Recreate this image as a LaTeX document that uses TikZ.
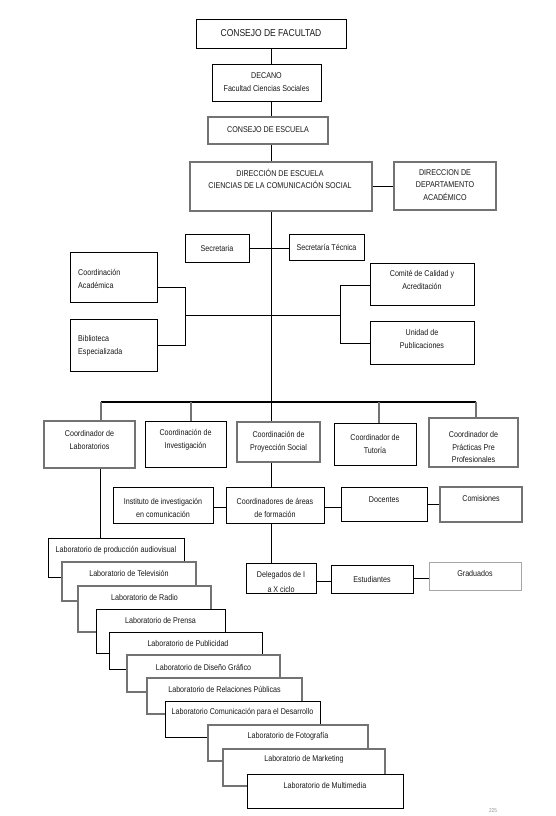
\documentclass[tikz,border=0pt]{standalone}
\usepackage{fontspec}
\setmainfont[FakeStretch=0.85]{Liberation Sans}
\usetikzlibrary{backgrounds}
\newcommand\bx[6][]{\node[box,#1,minimum width={(#5-#3)*1pt},minimum height={(#6-#4)*1pt},anchor=north west] (#2) at (#3,#4) {};}
\begin{document}
\begin{tikzpicture}[x=1pt,y=-1pt,
  box/.style={rectangle,draw=black,fill=white,line width=0.8pt,inner sep=0pt,outer sep=0pt},
  gbox/.style={draw=black!55,line width=1.4pt},
  lgbox/.style={draw=black!35,line width=0.8pt},
  txt/.style={inner sep=0pt,align=center,font=\fontsize{8.4}{12.5}\selectfont,text=black!90},
  ln/.style={draw=black,line width=0.7pt},
  gln/.style={draw=black!55,line width=1.3pt}]
\useasboundingbox (0,0) rectangle (555,816);
% top chain
\bx{cf}{196}{19}{346}{48}
\node[txt,font=\fontsize{10}{12}\selectfont] (cft) at (271,33.5) {CONSEJO DE FACULTAD};
\bx{dec}{212}{64}{321}{101}
\node[txt] (dect) at (266.5,82) {DECANO\\Facultad Ciencias Sociales};
\bx[gbox]{ce}{208}{117}{328}{144}
\node[txt] (cet) at (268,130) {CONSEJO DE ESCUELA};
\bx[gbox]{de}{190}{162}{372}{211}
\node[txt] (det) at (280,179) {DIRECCIÓN DE ESCUELA\\CIENCIAS DE LA COMUNICACIÓN SOCIAL};
\bx[gbox]{dda}{394}{162}{496}{210}
\node[txt] (ddat) at (445,185) {DIRECCION DE\\DEPARTAMENTO\\ACADÉMICO};
\bx{sec}{185}{234}{249}{262}
\node[txt] (sect0) at (217,248) {Secretaria};
\bx{sect}{289}{234}{364}{260}
\node[txt] (sectt) at (326.5,247) {Secretaría Técnica};
% side boxes
\bx{ca}{70}{252}{157}{302}
\node[txt,align=left,anchor=west] (cat) at (78,279) {Coordinación\\Académica};
\bx{be}{70}{319}{157}{371}
\node[txt,align=left,anchor=west] (bet) at (78,346) {Biblioteca\\Especializada};
\bx{cc}{370}{263}{474}{305}
\node[txt] (cct) at (422,280) {Comité de Calidad y\\Acreditación};
\bx{up}{370}{321}{474}{364}
\node[txt] (upt) at (422,339) {Unidad de\\Publicaciones};
% coordinators
\bx[gbox]{cl}{44}{421}{135}{468}
\node[txt] (clt) at (89.5,440) {Coordinador de\\Laboratorios};
\bx{ci}{145}{421}{226}{467}
\node[txt] (cit) at (185.5,440) {Coordinación de\\Investigación};
\bx[gbox]{cp}{237}{422}{320}{462}
\node[txt] (cpt) at (278.5,442) {Coordinación de\\Proyección Social};
\bx{ct}{334}{423}{416}{465}
\node[txt] (ctt) at (375,444) {Coordinador de\\Tutoría};
\bx[gbox]{cpp}{429}{418}{518}{467}
\node[txt] (cppt) at (473.5,447) {Coordinador de\\Prácticas Pre\\Profesionales};
% second row
\bx{ii}{113}{487}{213}{523}
\node[txt] (iit) at (163,508) {Instituto de investigación\\en comunicación};
\bx{caf}{226}{487}{324}{523}
\node[txt] (caft) at (275,508) {Coordinadores de áreas\\de formación};
\bx{doc}{341}{487}{427}{521}
\node[txt] (doct) at (384,500) {Docentes};
\bx[gbox]{com}{440}{487}{522}{522}
\node[txt] (comt) at (481,498) {Comisiones};
% third row
\bx{del}{246}{563}{316}{593}
\node[txt,font=\fontsize{8.4}{14.5}\selectfont] (delt) at (281,582) {Delegados de I\\a X ciclo};
\bx{est}{331}{565}{413}{593}
\node[txt] (estt) at (372,579) {Estudiantes};
\bx[lgbox]{gra}{429}{562}{521}{590}
\node[txt] (grat) at (475,573) {Graduados};
% laboratories
\bx{l1}{48}{538}{184}{577}
\node[txt] (l1t) at (116,550) {Laboratorio de producción audiovisual};
\bx[gbox]{l2}{62}{562}{196}{601}
\node[txt] (l2t) at (129,573) {Laboratorio de Televisión};
\bx[gbox]{l3}{78}{586}{211}{632}
\node[txt] (l3t) at (144.5,597) {Laboratorio de Radio};
\bx{l4}{96}{609}{225}{653}
\node[txt] (l4t) at (160.5,620) {Laboratorio de Prensa};
\bx{l5}{109}{632}{262}{669}
\node[txt] (l5t) at (188,643) {Laboratorio de Publicidad};
\bx[gbox]{l6}{127}{655}{280}{692}
\node[txt] (l6t) at (203.5,667) {Laboratorio de Diseño Gráfico};
\bx[gbox]{l7}{147}{678}{302}{714}
\node[txt] (l7t) at (224.5,689) {Laboratorio de Relaciones Públicas};
\bx{l8}{165}{701}{320}{737}
\node[txt] (l8t) at (242.5,712) {Laboratorio Comunicación para el Desarrollo};
\bx[gbox]{l9}{208}{725}{368}{761}
\node[txt] (l9t) at (288,736) {Laboratorio de Fotografía};
\bx[gbox]{l10}{223}{749}{385}{786}
\node[txt] (l10t) at (304,759) {Laboratorio de Marketing};
\bx{l11}{247}{774}{403}{808}
\node[txt] (l11t) at (325,785) {Laboratorio de Multimedia};
\node[txt,font=\fontsize{5.5}{6}\selectfont,text=black!45] (pg) at (493,811) {225};
% connectors
\coordinate (ml) at (271,0);
\coordinate (lbt) at (185,287);
\coordinate (lbb) at (185,345);
\coordinate (lbm) at (185,315);
\coordinate (rbm) at (340,315);
\coordinate (rbt) at (340,285);
\coordinate (rbb) at (340,343);
\coordinate (busl) at (101,402);
\coordinate (busr) at (476,402);
\coordinate (d2) at (191,402);
\coordinate (d4) at (379,402);
\coordinate (lx) at (100,0);
\coordinate (r2a) at (0,507);
\coordinate (r2b) at (0,504);
\coordinate (r3a) at (0,581);
\coordinate (r3b) at (0,578);
\begin{pgfonlayer}{background}
\draw[ln] (cf.south -| ml) -- (del.north -| ml);
\draw[ln] (sec.east) -- (sec.east -| sect.west);
\draw[ln] (de.east) -- (de.east -| dda.west);
\draw[ln] (ca.east |- lbt) -- (lbt) -- (lbb) -- (be.east |- lbb);
\draw[ln] (lbm) -- (rbm);
\draw[ln] (cc.west |- rbt) -- (rbt) -- (rbb) -- (up.west |- rbb);
\draw[ln,line width=1.1pt] (busl) -- (busr);
\draw[gln] (busl) -- (busl |- cl.north);
\draw[gln] (d2) -- (d2 |- ci.north);
\draw[gln] (d4) -- (d4 |- ct.north);
\draw[gln] (busr) -- (busr |- cpp.north);
\draw[ln] (cl.south -| lx) -- (l1.north -| lx);
\draw[ln] (ii.east |- r2a) -- (caf.west |- r2a);
\draw[ln] (caf.east |- r2a) -- (doc.west |- r2a);
\draw[ln] (doc.east |- r2b) -- (com.west |- r2b);
\draw[ln] (del.east |- r3a) -- (est.west |- r3a);
\draw[ln] (est.east |- r3b) -- (gra.west |- r3b);
\end{pgfonlayer}
\end{tikzpicture}
\end{document}
